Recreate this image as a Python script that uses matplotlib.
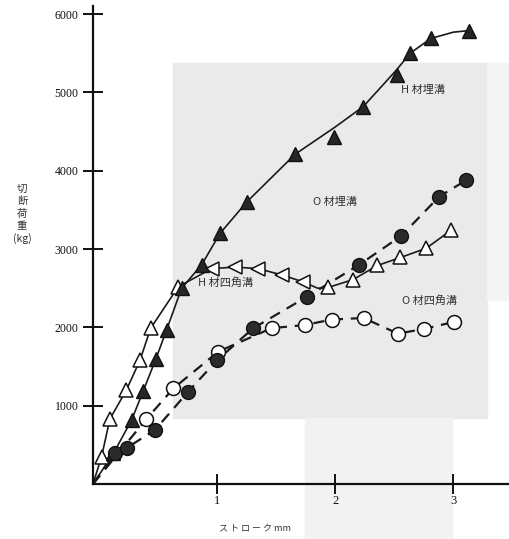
import matplotlib
matplotlib.use("Agg")
import matplotlib.pyplot as plt
from matplotlib.patches import Rectangle

# H材埋溝 (黒三角, 実線)
h_ume_x = [-0.053, 0.12, 0.275, 0.373, 0.478, 0.571, 0.698, 0.868, 1.023, 1.249, 1.659, 1.985, 2.237, 2.52, 2.633, 2.811, 3.136]
h_ume_y = [0, 390, 820, 1190, 1590, 1970, 2500, 2800, 3200, 3600, 4210, 4430, 4820, 5220, 5500, 5700, 5790]
# 線は曲線上から読んだ点
h_ume_line_x = [-0.053, 0.12, 0.275, 0.373, 0.478, 0.571, 0.698, 0.868, 1.023, 1.249, 1.659, 2.0, 2.237, 2.52, 2.633, 2.811, 3.0, 3.136]
h_ume_line_y = [0, 390, 820, 1190, 1590, 1970, 2500, 2800, 3200, 3600, 4210, 4560, 4820, 5290, 5500, 5690, 5770, 5790]

# H材四角溝 (白三角, 実線)
h_kaku_x = [-0.053, 0.02, 0.09, 0.23, 0.345, 0.436, 0.67, 0.953, 1.15, 1.347, 1.546, 1.73, 1.94, 2.15, 2.356, 2.548, 2.77, 2.98]
h_kaku_y = [0, 350, 830, 1200, 1580, 1990, 2520, 2750, 2770, 2750, 2670, 2580, 2520, 2610, 2800, 2900, 3010, 3240]
h_kaku_line_x = [-0.053, 0.02, 0.09, 0.23, 0.345, 0.436, 0.67, 0.953, 1.15, 1.347, 1.546, 1.73, 1.85, 1.94, 2.15, 2.356, 2.548, 2.77, 2.98]
h_kaku_line_y = [0, 350, 830, 1200, 1580, 1990, 2520, 2750, 2770, 2750, 2670, 2580, 2500, 2510, 2610, 2790, 2890, 3010, 3240]

# O材埋溝 (黒丸, 破線)
o_ume_x = [-0.053, 0.133, 0.232, 0.472, 0.754, 1.0, 1.305, 1.758, 2.203, 2.56, 2.88, 3.11]
o_ume_y = [0, 390, 460, 690, 1180, 1583, 1990, 2390, 2800, 3170, 3670, 3880]

# O材四角溝 (白丸, 破線)
o_kaku_x = [-0.053, 0.40, 0.627, 1.008, 1.46, 1.74, 1.97, 2.24, 2.53, 2.75, 3.006]
o_kaku_y = [0, 830, 1220, 1690, 1990, 2030, 2100, 2120, 1920, 1980, 2070]

y_ticks = [1000, 2000, 3000, 4000, 5000, 6000]
x_ticks = [1, 2, 3]

jp = ['Noto Sans CJK JP', 'DejaVu Sans']
serif = 'Liberation Serif'

fig = plt.figure(figsize=(5.1, 5.39), dpi=100)

# 裏写りの灰色部分
fig.patches.append(Rectangle((173/510, 1-418/539), (487-173)/510, (418-63)/539,
                             transform=fig.transFigure, color='#eaeaea', zorder=-1))
fig.patches.append(Rectangle((305/510, 0), (452-305)/510, (539-418)/539,
                             transform=fig.transFigure, color='#f2f2f2', zorder=-1))
fig.patches.append(Rectangle((487/510, 1-300/539), 23/510, (300-63)/539,
                             transform=fig.transFigure, color='#f4f4f4', zorder=-1))

ax = fig.add_axes([93/510, 1-484/539, 1-93/510, (484-6)/539])
ax.patch.set_alpha(0)
ax.set_xlim(-0.053, 3.48)
ax.set_ylim(0, 6104)

# 線
ax.plot(h_ume_line_x, h_ume_line_y, color='#1a1a1a', lw=1.2, zorder=2)
ax.plot(h_kaku_line_x, h_kaku_line_y, color='#1a1a1a', lw=1.2, zorder=2)
ax.plot(o_ume_x, o_ume_y, color='#1a1a1a', lw=1.6, ls=(0, (5, 3.5)), zorder=2)
ax.plot(o_kaku_x, o_kaku_y, color='#1a1a1a', lw=1.6, ls=(0, (5, 3.5)), zorder=2)

# マーカー
ax.plot(h_ume_x[1:], h_ume_y[1:], ls='none', marker='^', ms=10, mfc='#262626', mec='#111111', mew=1.0, zorder=4)
ax.plot(o_ume_x[1:], o_ume_y[1:], ls='none', marker='o', ms=10, mfc='#2b2b2b', mec='#111111', mew=1.0, zorder=4)
ax.plot(o_kaku_x[1:], o_kaku_y[1:], ls='none', marker='o', ms=10, mfc='white', mec='#111111', mew=1.1, zorder=3)

# 向き: 途中の点は左向き
up_x = h_kaku_x[1:7] + h_kaku_x[12:]
up_y = h_kaku_y[1:7] + h_kaku_y[12:]
left_x = h_kaku_x[7:12]
left_y = h_kaku_y[7:12]
ax.plot(up_x, up_y, ls='none', marker='^', ms=10, mfc='white', mec='#111111', mew=1.1, zorder=3)
ax.plot(left_x, left_y, ls='none', marker='<', ms=10, mfc='white', mec='#111111', mew=1.1, zorder=3)

# 軸
for s in ['top', 'right']:
    ax.spines[s].set_visible(False)
for s in ['left', 'bottom']:
    ax.spines[s].set_linewidth(1.6)
    ax.spines[s].set_color('#111111')

ax.set_yticks(y_ticks)
ax.set_yticklabels([str(v) for v in y_ticks], fontfamily=serif, fontsize=8.5)
ax.set_xticks(x_ticks)
ax.set_xticklabels([str(v) for v in x_ticks], fontfamily=serif, fontsize=9)
ax.tick_params(axis='y', direction='inout', length=15, width=1.4, pad=3, colors='#111111')
ax.tick_params(axis='x', direction='inout', length=14, width=1.4, pad=1, colors='#111111')

# ラベル
fig.text(22/510, 1-214/539, '切\n断\n荷\n重\n(kg)', ha='center', va='center',
         fontsize=7.5, family=jp, linespacing=1.3, color='#333333')
fig.text(255/510, 1-528/539, 'ス ト ロ ー ク mm', ha='center', va='center',
         fontsize=6.5, family=jp, color='#333333')

ax.text(2.74, 5030, 'H 材埋溝', fontsize=8, family=jp, ha='center', va='center', color='#333333')
ax.text(2.0, 3600, 'O 材埋溝', fontsize=8, family=jp, ha='center', va='center', color='#333333')
ax.text(0.84, 2570, 'H 材四角溝', fontsize=8, family=jp, ha='left', va='center', color='#333333')
ax.text(2.8, 2340, 'O 材四角溝', fontsize=8, family=jp, ha='center', va='center', color='#333333')

fig.savefig('out.png', dpi=100)
